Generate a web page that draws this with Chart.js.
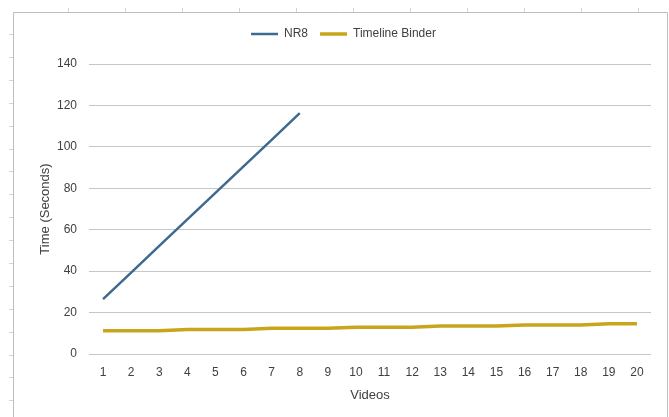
<!DOCTYPE html>
<html>
<head>
<meta charset="utf-8">
<script src="https://cdn.jsdelivr.net/npm/chart.js@4/dist/chart.umd.min.js"></script>
<style>
  html, body { margin: 0; padding: 0; background: #fff; }
  #wrap { position: relative; width: 669px; height: 417px; }
</style>
</head>
<body>
<div id="wrap"><canvas id="chart" width="669" height="417"></canvas></div>
<script>
// Processing time per video
const videos = ['1','2','3','4','5','6','7','8','9','10','11','12','13','14','15','16','17','18','19','20'];
const nr8Times = [26.5, 39.3, 52.2, 65.0, 77.8, 90.6, 103.4, 116.3];
const binderTimes = [11.2, 11.2, 11.2, 11.8, 11.8, 11.8, 12.4, 12.4, 12.4, 12.9,
                     12.9, 12.9, 13.5, 13.5, 13.5, 14.0, 14.0, 14.0, 14.6, 14.6];
const yTicks = [0, 20, 40, 60, 80, 100, 120, 140];

const FONT = "'Liberation Sans', Arial, sans-serif";
const TEXT = '#404040';

// Frame around the chart plus the faint sheet cell marks outside it
const framePlugin = {
  id: 'frame',
  beforeDraw(chart) {
    const ctx = chart.ctx;
    ctx.save();
    ctx.fillStyle = '#fff';
    ctx.fillRect(0, 0, chart.width, chart.height);
    ctx.strokeStyle = '#d4d4d4';
    ctx.lineWidth = 1;
    for (let x = 68; x < 660; x += 57) {
      ctx.beginPath(); ctx.moveTo(x + 0.5, 8); ctx.lineTo(x + 0.5, 12); ctx.stroke();
    }
    for (let y = 34; y < 417; y += 22.9) {
      const yy = Math.round(y) + 0.5;
      ctx.beginPath(); ctx.moveTo(9, yy); ctx.lineTo(13, yy); ctx.stroke();
    }
    ctx.strokeStyle = '#bdbdbd';
    ctx.beginPath();
    ctx.moveTo(13.5, 417);
    ctx.lineTo(13.5, 12.5);
    ctx.lineTo(667.5, 12.5);
    ctx.lineTo(667.5, 417);
    ctx.stroke();
    ctx.restore();
  }
};

// Extra room below the legend
const legendGap = {
  id: 'legendGap',
  beforeLayout(chart) {
    const lg = chart.legend;
    if (lg && !lg._gapPatched) {
      const fit = lg.fit;
      lg.fit = function () { fit.call(this); this.height += 14; };
      lg._gapPatched = true;
    }
  }
};

new Chart(document.getElementById('chart'), {
  type: 'line',
  data: {
    labels: videos,
    datasets: [
      {
        label: 'NR8',
        data: nr8Times,
        borderColor: '#3D6A8E',
        backgroundColor: '#3D6A8E',
        borderWidth: 2.5,
        pointRadius: 0,
        tension: 0
      },
      {
        label: 'Timeline Binder',
        data: binderTimes,
        borderColor: '#C9A51C',
        backgroundColor: '#C9A51C',
        borderWidth: 3.5,
        pointRadius: 0,
        tension: 0
      }
    ]
  },
  options: {
    responsive: false,
    animation: false,
    layout: { padding: { left: 36, right: 18, top: 16, bottom: 0 } },
    plugins: {
      tooltip: { enabled: false },
      legend: {
        position: 'top',
        labels: {
          usePointStyle: true,
          pointStyle: 'line',
          pointStyleWidth: 27,
          boxHeight: 12,
          padding: 12,
          color: TEXT,
          font: { family: FONT, size: 12 }
        }
      }
    },
    scales: {
      x: {
        offset: true,
        grid: { display: false, drawTicks: false },
        border: { display: false },
        ticks: { color: TEXT, font: { family: FONT, size: 12 }, padding: 11, maxRotation: 0, autoSkip: false },
        title: { display: true, text: 'Videos', color: TEXT, font: { family: FONT, size: 13 }, padding: { top: 4, bottom: 14 } },
        afterFit(scale) { scale.height = 63; }
      },
      y: {
        min: 0,
        max: 140,
        afterBuildTicks(scale) { scale.ticks = yTicks.map(v => ({ value: v })); },
        grid: { color: '#c6c6c6', lineWidth: 1, drawTicks: false },
        border: { display: false },
        ticks: { color: TEXT, font: { family: FONT, size: 12 }, padding: 12 },
        title: { display: true, text: 'Time (Seconds)', color: TEXT, font: { family: FONT, size: 13 }, padding: { top: 2, bottom: 0 } },
        afterFit(scale) { scale.width = 53; }
      }
    }
  },
  plugins: [framePlugin, legendGap]
});
</script>
</body>
</html>
